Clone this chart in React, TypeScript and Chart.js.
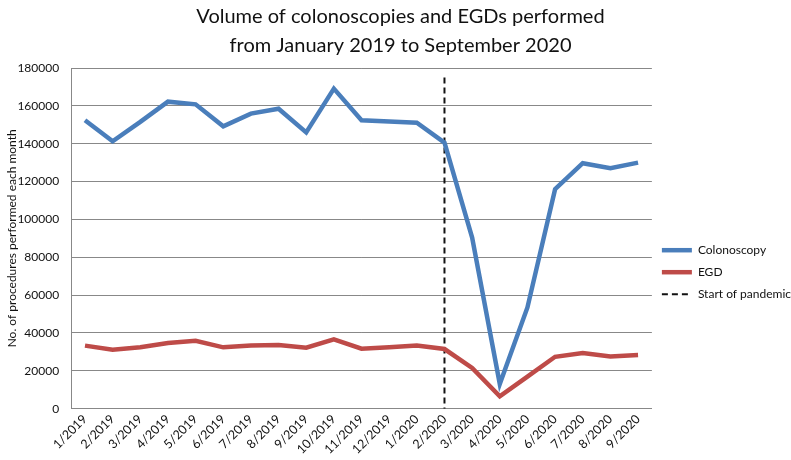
import React, { useEffect, useRef } from "react";
import { Chart, registerables } from "chart.js";

Chart.register(...registerables);

const months = [
  "1/2019", "2/2019", "3/2019", "4/2019", "5/2019", "6/2019", "7/2019",
  "8/2019", "9/2019", "10/2019", "11/2019", "12/2019", "1/2020", "2/2020",
  "3/2020", "4/2020", "5/2020", "6/2020", "7/2020", "8/2020", "9/2020",
];

const colonoscopy = [
  152400, 141300, 151500, 162200, 160800, 149200, 155900, 158500, 146000,
  169100, 152400, 151700, 151100, 140600, 90400, 13000, 53500, 116000,
  129700, 127000, 130000,
];

const egd = [
  33300, 31100, 32400, 34700, 35900, 32400, 33400, 33600, 32200, 36600,
  31700, 32500, 33400, 31500, 21500, 6500, 16900, 27400, 29400, 27600, 28300,
];

const pandemicMonth = "2/2020";
const pandemicLine = [175000, 0];

const yTicks = [0, 20000, 40000, 60000, 80000, 100000, 120000, 140000, 160000, 180000];

const titleLines = [
  "Volume of colonoscopies and EGDs performed",
  "from January 2019 to September 2020",
];

const FONT = "Lato, 'Open Sans', sans-serif";

export default function App() {
  const ref = useRef<HTMLCanvasElement | null>(null);

  useEffect(() => {
    if (!ref.current) return;
    const baseLabels = (Chart.defaults as any).plugins.legend.labels.generateLabels;
    const chart = new Chart(ref.current, {
      type: "line",
      data: {
        labels: months,
        datasets: [
          {
            label: "Colonoscopy",
            data: colonoscopy,
            borderColor: "#4A7EBB",
            backgroundColor: "#4A7EBB",
            borderWidth: 4.5,
            pointRadius: 0,
            pointStyle: "line",
            tension: 0,
          },
          {
            label: "EGD",
            data: egd,
            borderColor: "#BE4B48",
            backgroundColor: "#BE4B48",
            borderWidth: 4.5,
            pointRadius: 0,
            pointStyle: "line",
            tension: 0,
          },
          {
            label: "Start of pandemic",
            data: pandemicLine.map((v) => ({ x: pandemicMonth, y: v })),
            borderColor: "#111111",
            backgroundColor: "#111111",
            borderWidth: 2,
            borderDash: [6, 4],
            pointRadius: 0,
            pointStyle: "line",
          },
        ],
      },
      options: {
        animation: false,
        responsive: true,
        maintainAspectRatio: false,
        layout: { padding: { left: 0, right: -10, top: 0, bottom: 0 } },
        plugins: {
          title: {
            display: true,
            text: titleLines,
            color: "#111",
            font: { family: FONT, size: 20, weight: "normal", lineHeight: 1.45 },
            padding: { top: 2, bottom: 8 },
          },
          legend: {
            position: "right",
            align: "center",
            title: { display: true, text: "", padding: { top: 70 } },
            labels: {
              usePointStyle: true,
              pointStyleWidth: 30,
              color: "#111",
              font: { family: FONT, size: 12 },
              padding: 10,
              generateLabels: (c: any) => {
                const items = baseLabels(c);
                return items.map((it: any) => {
                  const ds = c.data.datasets[it.datasetIndex];
                  return {
                    ...it,
                    lineDash: ds.borderDash || [],
                    lineWidth: ds.borderWidth,
                    strokeStyle: ds.borderColor,
                    fillStyle: ds.borderColor,
                  };
                });
              },
            },
          },
          tooltip: { enabled: false },
        },
        scales: {
          x: {
            offset: true,
            grid: { display: false, drawTicks: false },
            border: { color: "#888", width: 1 },
            ticks: {
              minRotation: 45,
              maxRotation: 45,
              autoSkip: false,
              color: "#111",
              font: { family: FONT, size: 12.5 },
              padding: 3,
            },
          },
          y: {
            min: 0,
            max: 180000,
            afterBuildTicks: (axis: any) => {
              axis.ticks = yTicks.map((v) => ({ value: v }));
            },
            grid: { color: "#888", drawTicks: false },
            border: { color: "#888", width: 1 },
            ticks: {
              color: "#111",
              font: { family: FONT, size: 12 },
              padding: 12,
              callback: (v: any) => String(v),
            },
            title: {
              display: true,
              text: "No. of procedures performed each month",
              color: "#111",
              font: { family: FONT, size: 12 },
              padding: { top: 5, bottom: -14 },
            },
          },
        },
      },
    });
    return () => chart.destroy();
  }, []);

  return (
    <div style={{ position: "fixed", left: 0, top: 0, width: 791, height: 460, background: "#fff" }}>
      <canvas ref={ref} />
    </div>
  );
}
